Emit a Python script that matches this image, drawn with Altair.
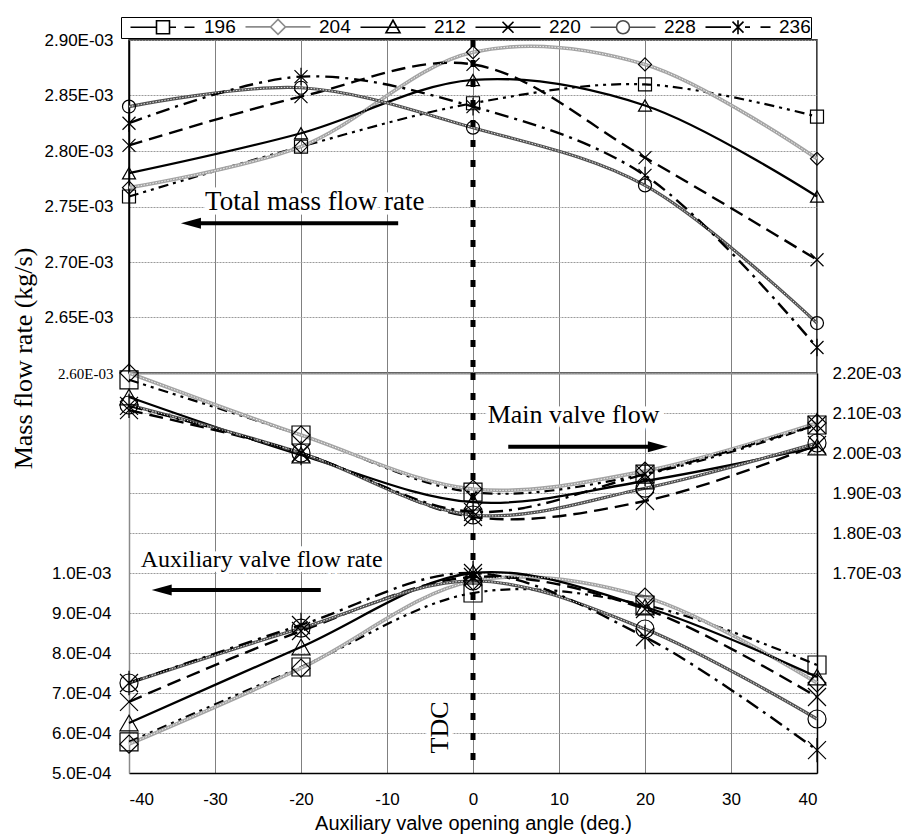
import altair as alt
import pandas as pd

# ---------------- data ----------------
angles = [-40, -20, 0, 20, 40]
series = ["196", "204", "212", "220", "228", "236"]

# total mass flow rate (kg/s) - top panel, left axis
total_196 = [2.759e-3, 2.804e-3, 2.843e-3, 2.860e-3, 2.831e-3]
total_204 = [2.767e-3, 2.804e-3, 2.889e-3, 2.878e-3, 2.793e-3]
total_212 = [2.780e-3, 2.816e-3, 2.864e-3, 2.841e-3, 2.759e-3]
total_220 = [2.805e-3, 2.849e-3, 2.878e-3, 2.794e-3, 2.702e-3]
total_228 = [2.840e-3, 2.857e-3, 2.821e-3, 2.769e-3, 2.645e-3]
total_236 = [2.825e-3, 2.867e-3, 2.840e-3, 2.778e-3, 2.623e-3]

# main valve flow (kg/s) - middle curves, right axis
main_196 = [2.183e-3, 2.045e-3, 1.902e-3, 1.947e-3, 2.070e-3]
main_204 = [2.200e-3, 2.045e-3, 1.910e-3, 1.955e-3, 2.075e-3]
main_212 = [2.140e-3, 1.995e-3, 1.877e-3, 1.930e-3, 2.015e-3]
main_220 = [2.107e-3, 2.000e-3, 1.840e-3, 1.880e-3, 2.020e-3]
main_228 = [2.120e-3, 2.000e-3, 1.845e-3, 1.912e-3, 2.025e-3]
main_236 = [2.118e-3, 2.000e-3, 1.853e-3, 1.947e-3, 2.070e-3]

# auxiliary valve flow rate (kg/s) - bottom curves, left axis
aux_196 = [5.78e-4, 7.65e-4, 9.50e-4, 9.20e-4, 7.70e-4]
aux_204 = [5.72e-4, 7.62e-4, 9.80e-4, 9.40e-4, 7.25e-4]
aux_212 = [6.25e-4, 8.15e-4, 1.000e-3, 9.15e-4, 7.40e-4]
aux_220 = [6.78e-4, 8.55e-4, 9.90e-4, 9.10e-4, 6.90e-4]
aux_228 = [7.25e-4, 8.62e-4, 9.80e-4, 8.60e-4, 6.35e-4]
aux_236 = [7.25e-4, 8.70e-4, 1.000e-3, 8.40e-4, 5.57e-4]

# axis tick values
x_ticks = [-40, -30, -20, -10, 0, 10, 20, 30, 40]
top_ticks = [2.60e-3, 2.65e-3, 2.70e-3, 2.75e-3, 2.80e-3, 2.85e-3, 2.90e-3]
aux_ticks = [5e-4, 6e-4, 7e-4, 8e-4, 9e-4, 1.0e-3, 1.1e-3, 1.2e-3, 1.3e-3, 1.4e-3, 1.5e-3]
main_ticks = [1.2e-3, 1.3e-3, 1.4e-3, 1.5e-3, 1.6e-3, 1.7e-3, 1.8e-3, 1.9e-3, 2.0e-3, 2.1e-3, 2.2e-3]

# annotations (data coordinates)
tdc_angle = [0]
top_note = ["Total mass flow rate"]
top_note_x = [-18.4]
top_note_y = [2.7468e-3]
main_note = ["Main valve flow"]
main_note_x = [11.7]
main_note_y = [2.0742e-3]
aux_note = ["Auxiliary valve flow rate"]
aux_note_x = [-10.5]
aux_note_y = [1.0158e-3]
tdc_note = ["TDC"]
tdc_note_x = [-2.9]
tdc_note_y = [6.14e-4]
top_arrow_from, top_arrow_to, top_arrow_y = [-8.7], [-32.8], [2.7349e-3]
main_arrow_from, main_arrow_to, main_arrow_y = [4.1], [21.5], [2.0158e-3]
aux_arrow_from, aux_arrow_to, aux_arrow_y = [-17.7], [-36.2], [9.575e-4]

# ---------------- styles ----------------
XSH = "M-1,-1L1,1M1,-1L-1,1"
AST = "M-1,-1L1,1M1,-1L-1,1M0,-1.35V1.35"
STYLE = {
    "196": dict(color="black", width=2.2, dash=[10, 5, 3, 5, 3, 5], shape="square", tex=False),
    "204": dict(color="#a4a4a4", width=3.6, dash=None, shape="diamond", tex=True),
    "212": dict(color="black", width=2.3, dash=None, shape="triangle-up", tex=False),
    "220": dict(color="black", width=2.4, dash=[14, 7], shape=XSH, tex=False),
    "228": dict(color="#505050", width=3.2, dash=None, shape="circle", tex=True),
    "236": dict(color="black", width=2.4, dash=[14, 6, 3, 6], shape=AST, tex=False),
}
# legend glyphs: a short line sample (0..13 units) with the marker in its middle (6.5 units)
SQ = "M5.2,-1.3H7.8V1.3H5.2Z"
DI = "M6.5,-1.5L8,0L6.5,1.5L5,0Z"
TR = "M6.5,-1.4L7.9,1.1H5.1Z"
XX = "M5.4,-1.1L7.6,1.1M7.6,-1.1L5.4,1.1"
CI = "M7.8,0A1.3,1.3,0,1,1,5.2,0A1.3,1.3,0,1,1,7.8,0"
AS = "M5.4,-1.1L7.6,1.1M7.6,-1.1L5.4,1.1M6.5,-1.4V1.4"
legend_paths = [
    "M0,0H5.2M7.8,0H9.1M10.8,0H12.8" + SQ,
    "M0,0H5M8,0H13" + DI,
    "M0,0H13" + TR,
    "M0,0H13" + XX,
    "M0,0H5.2M7.8,0H13" + CI,
    "M0,0H5.1M7.9,0H8.9M11,0H13" + AS,
]
legend_colors = ["black", "#8c8c8c", "black", "black", "#4a4a4a", "black"]

SANS = "Liberation Sans"
SERIF = "Liberation Serif"


def long_frame(cols):
    rows = []
    for s, vals in zip(series, cols):
        for a, v in zip(angles, vals):
            rows.append({"series": s, "angle": a, "value": v})
    return pd.DataFrame(rows)


top_df = long_frame([total_196, total_204, total_212, total_220, total_228, total_236])
main_df = long_frame([main_196, main_204, main_212, main_220, main_228, main_236])
aux_df = long_frame([aux_196, aux_204, aux_212, aux_220, aux_228, aux_236])


def sci(dec, cond=None):
    e = "floor(log(datum.value)/LN10+1e-9)"
    lab = f"format(datum.value/pow(10,{e}),'.{dec}f')+'E-0'+(-{e})"
    if cond:
        return f"({cond}) ? {lab} : ''"
    return lab


X_SCALE = alt.Scale(domain=[-40, 40], nice=False, zero=False)
GRID_X = dict(grid=True, gridColor="#808080", gridWidth=1)
GRID_Y = dict(grid=True, gridColor="#9a9a9a", gridWidth=1, gridDash=[2, 1])

x_top_axis = alt.Axis(values=x_ticks, labels=False, ticks=False, tickSize=0, title=None,
                      domainColor="#8a8a8a", domainWidth=2, **GRID_X)
x_low_axis = alt.Axis(values=x_ticks, labelExpr="datum.value + ''", ticks=False, tickSize=0,
                      labelPadding=18, labelFont=SANS, labelFontSize=17,
                      title="Auxiliary valve opening angle (deg.)", titleFont=SANS,
                      titleFontSize=20, titleFontWeight="normal", titlePadding=6,
                      titleColor="black", domainColor="black", domainWidth=1.5, **GRID_X)

top_y_axis = alt.Axis(values=top_ticks, labelExpr=sci(2), ticks=False, tickSize=0, labelPadding=16,
                      labelFont={"condition": {"test": "datum.value < 0.002601", "value": SERIF},
                                 "value": SANS},
                      labelFontSize={"condition": {"test": "datum.value < 0.002601", "value": 15},
                                     "value": 17},
                      title="Mass flow rate (kg/s)", titleFont=SERIF, titleFontSize=26,
                      titleFontWeight="normal", titleColor="black", titleX=-106, titleY=318,
                      titleAngle=270, titleAlign="center", titleBaseline="middle",
                      domainColor="black", domainWidth=1.5, **GRID_Y)
aux_y_axis = alt.Axis(values=aux_ticks, labelExpr=sci(1, "datum.value < 0.0010001"), ticks=False,
                      tickSize=0, labelPadding=18, labelFont=SANS, labelFontSize=17, title=None,
                      domainColor="#8a8a8a", domainWidth=1.5, **GRID_Y)
main_y_axis = alt.Axis(values=main_ticks, orient="right", labelExpr=sci(2, "datum.value > 0.001695"),
                       ticks=False, tickSize=0, labelPadding=15, labelFont=SANS, labelFontSize=17,
                       title=None, grid=False, domainColor="black", domainWidth=1.5)

top_y_scale = alt.Scale(domain=[2.6e-3, 2.9e-3], nice=False, zero=False)
aux_y_scale = alt.Scale(domain=[5e-4, 1.5e-3], nice=False, zero=False)
main_y_scale = alt.Scale(domain=[1.2e-3, 2.2e-3], nice=False, zero=False)


def enc(x_axis, y_scale, y_axis, xf="angle", yf="value"):
    return dict(x=alt.X(f"{xf}:Q", scale=X_SCALE, axis=x_axis),
                y=alt.Y(f"{yf}:Q", scale=y_scale, axis=y_axis))


def series_layers(df, x_axis, y_scale, y_axis, size):
    e = enc(x_axis, y_scale, y_axis)
    lines, overlays, points = [], [], []
    for s in series:
        st = STYLE[s]
        base = alt.Chart(df).transform_filter(alt.datum.series == s)
        kw = dict(interpolate="catmull-rom", color=st["color"], strokeWidth=st["width"])
        if st["dash"]:
            kw["strokeDash"] = st["dash"]
        lines.append(base.mark_line(**kw).encode(**e))
        if st["tex"]:
            overlays.append(base.mark_line(interpolate="catmull-rom", color="white", strokeWidth=1,
                                           strokeDash=[1.5, 1.5], opacity=0.85).encode(**e))
        points.append(base.mark_point(shape=st["shape"], size=size, filled=False, color="black",
                                      strokeWidth=1.2, opacity=1).encode(**e))
    return lines, overlays, points


def note_layers(label, nx, ny, x_axis, y_scale, y_axis, size=26, align="center", angle=0):
    df = pd.DataFrame({"angle": nx, "value": ny, "label": label})
    e = enc(x_axis, y_scale, y_axis)
    common = dict(font=SERIF, fontSize=size, align=align, baseline="alphabetic", angle=angle)
    halo = alt.Chart(df).mark_text(color="white", stroke="white", strokeWidth=9, **common).encode(
        text="label:N", **e)
    txt = alt.Chart(df).mark_text(color="black", **common).encode(text="label:N", **e)
    return [halo, txt]


def arrow_layers(x1, x2, y, head, x_axis, y_scale, y_axis):
    df = pd.DataFrame({"x1": x1, "x2": x2, "y": y})
    rule = alt.Chart(df).mark_rule(color="black", strokeWidth=4).encode(
        x=alt.X("x1:Q", scale=X_SCALE, axis=x_axis), x2="x2:Q",
        y=alt.Y("y:Q", scale=y_scale, axis=y_axis))
    hd = alt.Chart(df).mark_point(shape=head, filled=True, color="black", size=400, opacity=1).encode(
        x=alt.X("x2:Q", scale=X_SCALE, axis=x_axis), y=alt.Y("y:Q", scale=y_scale, axis=y_axis))
    return [rule, hd]


LEFT_HEAD = "M-1,0L1,-0.55L1,0.55Z"
RIGHT_HEAD = "M1,0L-1,-0.55L-1,0.55Z"

tdc_df = pd.DataFrame({"angle": tdc_angle})


def tdc_rule(x_axis):
    return alt.Chart(tdc_df).mark_rule(color="black", strokeWidth=5, strokeDash=[7, 13]).encode(
        x=alt.X("angle:Q", scale=X_SCALE, axis=x_axis))


# ---------------- top panel ----------------
t_lines, t_over, t_pts = series_layers(top_df, x_top_axis, top_y_scale, top_y_axis, 169)
leg = alt.Legend(title=None, orient="none", legendX=-8, legendY=-23, direction="horizontal",
                 columns=6, symbolSize=100, symbolStrokeWidth=1.6, symbolOpacity=1,
                 labelFont=SANS, labelFontSize=19, labelColor="black",
                 labelOffset=64, columnPadding=0, padding=0, strokeColor="black",
                 fillColor="white")
legend_layer = alt.Chart(top_df).transform_filter(alt.datum.angle == -40).mark_point(
    opacity=0, filled=False, size=100).encode(
    shape=alt.Shape("series:N", scale=alt.Scale(domain=series, range=legend_paths), legend=leg),
    stroke=alt.Stroke("series:N", scale=alt.Scale(domain=series, range=legend_colors), legend=leg),
    **enc(x_top_axis, top_y_scale, top_y_axis))

top_layers = (note_layers(top_note, top_note_x, top_note_y, x_top_axis, top_y_scale, top_y_axis,
                          size=27)
              + arrow_layers(top_arrow_from, top_arrow_to, top_arrow_y, LEFT_HEAD,
                             x_top_axis, top_y_scale, top_y_axis)
              + t_lines + t_over + [tdc_rule(x_top_axis)] + t_pts + [legend_layer])
top = alt.layer(*top_layers).properties(
    width=688, height=333, view=alt.ViewBackground(stroke="black", strokeWidth=1.5))

# ---------------- lower panel ----------------
a_lines, a_over, a_pts = series_layers(aux_df, x_low_axis, aux_y_scale, aux_y_axis, 324)
aux_group = alt.layer(*(
    note_layers(aux_note, aux_note_x, aux_note_y, x_low_axis, aux_y_scale, aux_y_axis, size=24,
                align="right")
    + note_layers(tdc_note, tdc_note_x, tdc_note_y, x_low_axis, aux_y_scale, aux_y_axis, size=26,
                  angle=270)
    + arrow_layers(aux_arrow_from, aux_arrow_to, aux_arrow_y, LEFT_HEAD,
                   x_low_axis, aux_y_scale, aux_y_axis)
    + a_lines + a_over + [tdc_rule(x_low_axis)] + a_pts))

m_lines, m_over, m_pts = series_layers(main_df, x_low_axis, main_y_scale, main_y_axis, 324)
main_group = alt.layer(*(
    note_layers(main_note, main_note_x, main_note_y, x_low_axis, main_y_scale, main_y_axis)
    + arrow_layers(main_arrow_from, main_arrow_to, main_arrow_y, RIGHT_HEAD,
                   x_low_axis, main_y_scale, main_y_axis)
    + m_lines + m_over + m_pts))

lower = alt.layer(aux_group, main_group).resolve_scale(y="independent").properties(
    width=688, height=400, view=alt.ViewBackground(stroke="transparent"))

chart = alt.vconcat(top, lower, spacing=0, bounds="flush").properties(
    padding={"left": 9, "top": 16, "right": 5, "bottom": 2}, background="white"
).configure_axis(labelColor="black")

chart.save("out.html", embed_options={"renderer": "svg", "actions": False})
